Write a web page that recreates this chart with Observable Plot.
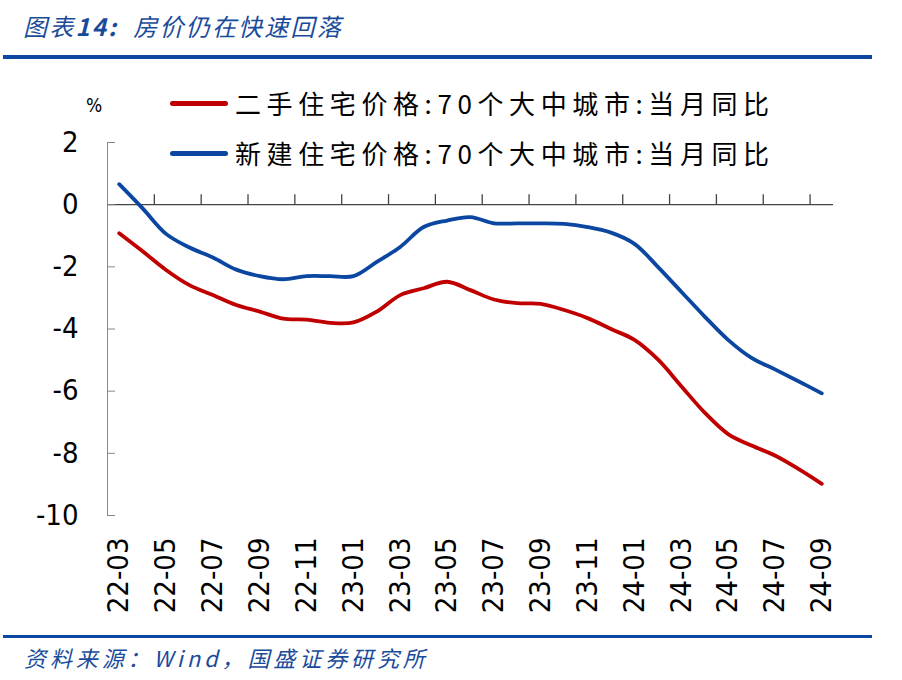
<!DOCTYPE html>
<html><head><meta charset="utf-8">
<script src="https://cdn.jsdelivr.net/npm/d3@7"></script>
<script src="https://cdn.jsdelivr.net/npm/@observablehq/plot@0.6"></script>
<style>
body{margin:0;background:#fff;}
#wrap{position:relative;width:902px;height:680px;overflow:hidden;background:#fff;font-family:"Noto Sans CJK SC",sans-serif;}
#title{position:absolute;left:23px;top:9px;font-size:24px;line-height:34px;font-style:italic;color:#1a4b9b;letter-spacing:2.2px;white-space:nowrap;}
#title b{font-weight:700;}
.rule{position:absolute;left:3px;width:869px;background:#0c47a1;}
#chart{position:absolute;left:0;top:60px;}
.leg{position:absolute;left:170px;height:36px;display:flex;align-items:center;white-space:nowrap;}
.sw{width:58px;height:5px;border-radius:3px;margin-right:7px;}
.lt{font-size:26px;letter-spacing:5.6px;color:#000;line-height:36px;}
#pct{position:absolute;left:86px;top:94px;font-family:"DejaVu Sans Condensed","DejaVu Sans";font-size:19px;color:#000;}
#source{position:absolute;left:24px;top:641px;font-size:22px;line-height:32px;font-style:italic;color:#1a4b9b;letter-spacing:3.9px;white-space:nowrap;}
</style></head><body>
<div id="wrap">
  <div id="title">图表<b>14:</b>&nbsp;&nbsp;房价仍在快速回落</div>
  <div class="rule" style="top:55px;height:4px"></div>
  <div id="chart"></div>
  <div id="pct">%</div>
  <div id="legend"></div>
  <div class="rule" style="top:635px;height:3px"></div>
  <div id="source">资料来源：Wind，国盛证券研究所</div>
</div>
<script>
const months = ["22-03","22-04","22-05","22-06","22-07","22-08","22-09","22-10","22-11","22-12",
  "23-01","23-02","23-03","23-04","23-05","23-06","23-07","23-08","23-09","23-10","23-11","23-12",
  "24-01","24-02","24-03","24-04","24-05","24-06","24-07","24-08","24-09"];
const secondHand = [-0.92,-1.50,-2.10,-2.59,-2.91,-3.23,-3.44,-3.67,-3.70,-3.80,-3.79,-3.44,-2.91,-2.69,-2.48,-2.75,
  -3.05,-3.17,-3.19,-3.39,-3.65,-4.00,-4.35,-4.98,-5.84,-6.69,-7.38,-7.75,-8.07,-8.50,-8.98];
const newHome = [0.66,-0.12,-0.94,-1.38,-1.70,-2.09,-2.30,-2.40,-2.30,-2.30,-2.30,-1.84,-1.36,-0.72,-0.51,-0.40,
  -0.60,-0.60,-0.60,-0.62,-0.72,-0.90,-1.26,-2.00,-2.80,-3.60,-4.35,-4.93,-5.30,-5.68,-6.07];
const seriesNames = ["二手住宅价格:70个大中城市:当月同比","新建住宅价格:70个大中城市:当月同比"];
const seriesColors = ["#c00000","#0b47a1"];
const yTicks = [-10,-8,-6,-4,-2,0,2];

const rows = [];
[secondHand, newHome].forEach((arr, s) => arr.forEach((v, i) => rows.push({i, v, s: seriesNames[s]})));
const labelIdx = months.map((m, i) => i).filter(i => i % 2 === 0);
const boundaries = months.map((m, i) => i - 0.5).filter((b, k) => k > 0 && k % 2 === 0);

const chart = Plot.plot({
  width: 902, height: 570,
  marginLeft: 107, marginRight: 69, marginTop: 82, marginBottom: 115,
  style: {fontFamily: "'DejaVu Sans Condensed','DejaVu Sans',sans-serif", fontSize: "29px", color: "#000", background: "transparent"},
  x: {type: "linear", domain: [-0.5, months.length - 0.5]},
  y: {domain: [-10, 2]},
  color: {domain: seriesNames, range: seriesColors},
  marks: [
    Plot.frame({anchor: "left", stroke: "#888"}),
    Plot.ruleY([0], {stroke: "#444", strokeWidth: 1.3}),
    Plot.ruleX(boundaries, {x: d => d, y1: 0, y2: 0, insetTop: -10, stroke: "#444", strokeWidth: 1.3}),
    Plot.axisY({ticks: yTicks, tickSize: -8, tickPadding: 37, stroke: "#888", label: null, tickFormat: d => String(d)}),
    Plot.axisX({ticks: labelIdx, tickFormat: i => months[i], tickRotate: -90, tickSize: 0, tickPadding: 22, label: null, textAnchor: "end"}),
    Plot.line(rows, {x: "i", y: "v", z: "s", stroke: "s", strokeWidth: 3.8, curve: "catmull-rom"})
  ]
});
document.getElementById("chart").appendChild(chart);

const leg = document.getElementById("legend");
seriesNames.forEach((n, k) => {
  const d = document.createElement("div");
  d.className = "leg";
  d.style.top = (85 + k * 50) + "px";
  d.innerHTML = `<div class="sw" style="background:${seriesColors[k]}"></div><span class="lt">${n}</span>`;
  leg.appendChild(d);
});
</script>
</body></html>
